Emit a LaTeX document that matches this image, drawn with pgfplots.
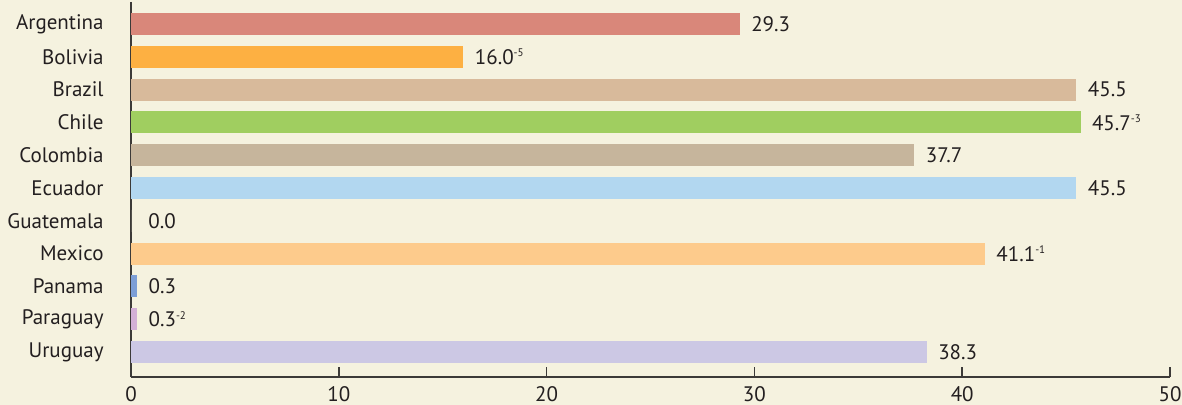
\documentclass[border=0pt]{standalone}
\usepackage{fontspec}
\setmainfont{PT Sans}
\usepackage{pgfplots}
\pgfplotsset{compat=1.18}
\usetikzlibrary{backgrounds}

\definecolor{bg}{HTML}{F5F2DF}
\definecolor{txt}{HTML}{231F20}
\definecolor{axgray}{HTML}{3C3A38}
\definecolor{cArg}{HTML}{D9877A}
\definecolor{cBol}{HTML}{FDB042}
\definecolor{cBra}{HTML}{D8BA9B}
\definecolor{cChi}{HTML}{A0CE60}
\definecolor{cCol}{HTML}{C6B59C}
\definecolor{cEcu}{HTML}{B2D7F0}
\definecolor{cMex}{HTML}{FDCB8C}
\definecolor{cPan}{HTML}{7C9ED6}
\definecolor{cPar}{HTML}{D3B0D6}
\definecolor{cUru}{HTML}{CCC8E4}

% small raised note marks after the values
\newcommand\note[1]{\raisebox{0.75ex}{\fontsize{5.5}{6}\selectfont #1}}

\begin{document}
\fontsize{10.5}{12}\selectfont
\begin{tikzpicture}
  \begin{axis}[
      name=ax,
      xbar,
      bar shift=0pt,
      bar width=11pt,
      scale only axis,
      width=519.5pt,
      height=187.5pt,
      xmin=0, xmax=50,
      ymin=-0.67, ymax=10.76,
      y dir=reverse,
      axis x line*=bottom,
      axis y line*=left,
      axis line style={-, line width=0.75pt, color=axgray},
      xtick={0,10,...,50},
      ytick={0,...,10},
      yticklabels={Argentina, Bolivia, Brazil, Chile, Colombia, Ecuador,
        Guatemala, Mexico, Panama, Paraguay, Uruguay},
      ytick style={draw=none},
      xtick align=inside,
      major tick length=5pt,
      x tick style={line width=0.75pt, color=axgray},
      tick label style={text=txt},
      x tick label style={yshift=-1.2pt},
      y tick label style={xshift=-5pt},
      /pgf/number format/assume math mode=true,
      nodes near coords,
      point meta=explicit symbolic,
      every node near coord/.append style={anchor=west, inner sep=0pt,
        xshift=5.5pt, text=txt},
    ]

    \addplot[fill=cArg, draw=none] coordinates {(29.3,0) [29.3]};
    \addplot[fill=cBol, draw=none] coordinates {(16.0,1) [16.0\note{-5}]};
    \addplot[fill=cBra, draw=none] coordinates {(45.5,2) [45.5]};
    \addplot[fill=cChi, draw=none] coordinates {(45.7,3) [45.7\note{-3}]};
    \addplot[fill=cCol, draw=none] coordinates {(37.7,4) [37.7]};
    \addplot[fill=cEcu, draw=none] coordinates {(45.5,5) [45.5]};
    \addplot[fill=bg, draw=none,
      every node near coord/.append style={xshift=3pt}] coordinates {(0.0,6) [0.0]};
    \addplot[fill=cMex, draw=none] coordinates {(41.1,7) [41.1\note{-1}]};
    \addplot[fill=cPan, draw=none] coordinates {(0.3,8) [0.3]};
    \addplot[fill=cPar, draw=none] coordinates {(0.3,9) [0.3\note{-2}]};
    \addplot[fill=cUru, draw=none] coordinates {(38.3,10) [38.3]};
  \end{axis}
  \begin{scope}[on background layer]
    \fill[bg] ([xshift=-65.5pt,yshift=-14pt]ax.south west)
      rectangle ([xshift=6pt,yshift=1pt]ax.north east);
  \end{scope}
  \pgfresetboundingbox
  \path[use as bounding box] ([xshift=-65.5pt,yshift=-14pt]ax.south west)
    rectangle ([xshift=6pt,yshift=1pt]ax.north east);
\end{tikzpicture}
\end{document}
